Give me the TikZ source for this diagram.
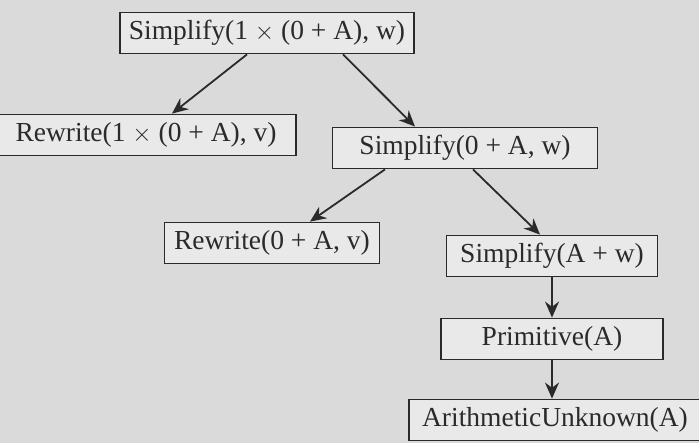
\documentclass[tikz,border=0pt]{standalone}
\usepackage{fontspec}
\setmainfont{Liberation Serif}
\usetikzlibrary{arrows.meta}
\definecolor{paper}{HTML}{DADADA}
\definecolor{ink}{HTML}{2A2A2A}
\begin{document}
\begin{tikzpicture}[x=1pt,y=-1pt,font=\fontsize{27.5}{32}\selectfont,text=ink,
  call/.style={draw=ink,line width=1.8pt,fill=paper!60!white,inner sep=0pt,minimum height=41pt},
  link/.style={draw=ink,line width=1.8pt,-{Stealth[length=16pt,width=14pt]}}]
  \fill[paper] (0,0) rectangle (699,443);
  \useasboundingbox (0,0) rectangle (699,443);
  \node[call,minimum width=294pt] (top) at (267,33) {Simplify(1 $\times$ (0 + A), w)};
  \node[call,minimum width=300pt] (rw1) at (146,135) {Rewrite(1 $\times$ (0 + A), v)};
  \node[call,minimum width=265pt] (s1) at (465,148) {Simplify(0 + A, w)};
  \node[call,minimum width=215pt] (rw2) at (272,243) {Rewrite(0 + A, v)};
  \node[call,minimum width=211pt] (s2) at (552,256) {Simplify(A + w)};
  \node[call,minimum width=222pt] (prim) at (552,339) {Primitive(A)};
  \node[call,minimum width=292pt] (unk) at (555,420) {ArithmeticUnknown(A)};
  \draw[link] (top.south -| 247,0) -- (rw1.north -| 172,0);
  \draw[link] (top.south -| 343,0) -- (s1.north -| 415,0);
  \draw[link] (s1.south -| 385,0) -- (rw2.north -| 310,0);
  \draw[link] (s1.south -| 473,0) -- (s2.north -| 540,0);
  \draw[link] (s2) -- (prim);
  \draw[link] (prim) -- (unk.north -| prim);
\end{tikzpicture}
\end{document}
